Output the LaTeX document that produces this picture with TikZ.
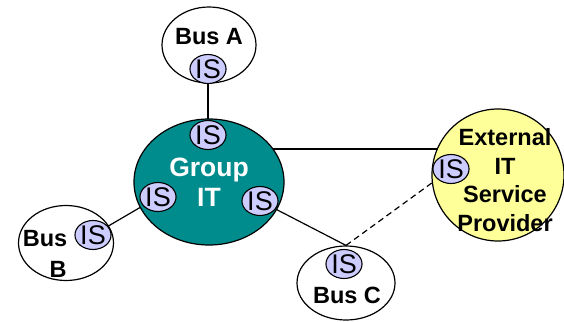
\documentclass[tikz,border=0pt]{standalone}
\usepackage{fontspec}
\setmainfont{Liberation Sans}
\usetikzlibrary{shapes.geometric}
\pgfdeclarelayer{background}
\pgfsetlayers{background,main}
\definecolor{teal}{RGB}{0,140,140}
\definecolor{lav}{RGB}{204,204,255}
\definecolor{paleyellow}{RGB}{255,255,153}
\tikzset{
  unit/.style={ellipse, draw, line width=1.2pt, fill=white, inner sep=0pt},
  isnode/.style={ellipse, draw, line width=1.1pt, fill=lav, minimum width=36pt,
    minimum height=29pt, inner sep=0pt, font=\fontsize{27}{27}\selectfont},
  lbl/.style={inner sep=0pt, font=\fontsize{23.5}{28.5}\selectfont\bfseries, align=center},
  link/.style={line width=1.2pt},
  dashlink/.style={line width=1.2pt, dash pattern=on 6pt off 4pt}
}
\begin{document}
\begin{tikzpicture}[x=1pt,y=-1pt]
\useasboundingbox (0,0) rectangle (564,321);
% business units
\node[unit, minimum width=94pt, minimum height=76pt] (busa) at (209,45) {};
\node[unit, minimum width=95pt, minimum height=75pt] (busb) at (66,243) {};
\node[unit, minimum width=98pt, minimum height=74pt] (busc) at (346,283) {};
% group IT and external provider
\node[ellipse, draw, line width=1.2pt, fill=teal, minimum width=150pt, minimum height=126pt,
  inner sep=0pt, text=white, font=\fontsize{26.5}{30}\selectfont\bfseries, align=center]
  (grp) at (209,182) {Group\\IT};
\node[circle, draw, line width=1.2pt, fill=paleyellow, minimum size=132pt, inner sep=0pt]
  (ext) at (498,175) {};
% labels
\node[lbl] (labela) at (209,37) {Bus A};
\node[lbl] (labelb1) at (45,239) {Bus};
\node[lbl] (labelb2) at (58,269) {B};
\node[lbl] (labelc) at (347,295) {Bus C};
\node[lbl] (labelext) at (505,180) {External\\IT\\Service\\Provider};
% interface points
\node[isnode] (ais) at (208,69) {IS};
\node[isnode] (git) at (208,135) {IS};
\node[isnode] (gl) at (158,197) {IS};
\node[isnode] (gr) at (260,201) {IS};
\node[isnode] (bis) at (93,235) {IS};
\node[isnode] (cis) at (344,264) {IS};
\node[isnode] (eis) at (451,169) {IS};
% connectors
\coordinate (hy) at (0,149);
\begin{pgfonlayer}{background}
  \draw[link] (ais) -- (git);
  \draw[link] (grp.center |- hy) -- (ext.center |- hy);
  \draw[link] (bis) -- (gl);
  \draw[link] (gr) -- (busc.north);
  \draw[dashlink] (busc.north) -- (eis);
\end{pgfonlayer}
\end{tikzpicture}
\end{document}
